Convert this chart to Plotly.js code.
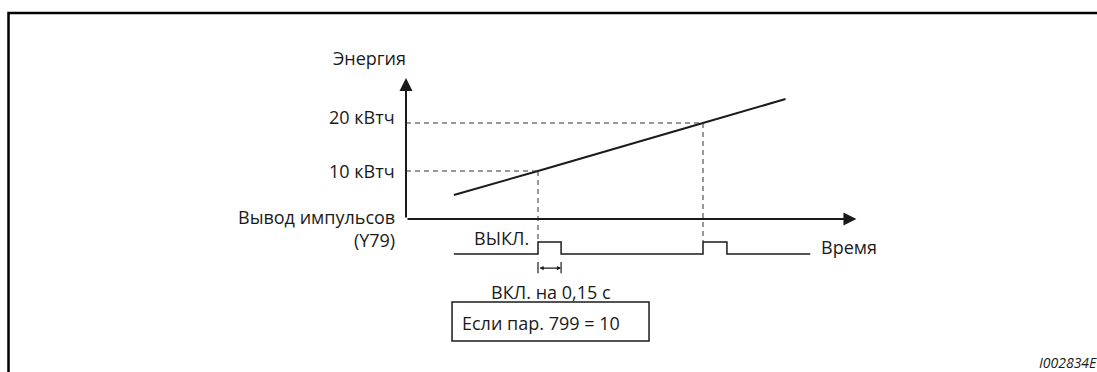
<!DOCTYPE html>
<html>
<head>
<meta charset="utf-8">
<script src="https://cdn.plot.ly/plotly-3.0.1.min.js"></script>
<style>
  html, body { margin: 0; padding: 0; background: #fff; }
  #chart { width: 1097px; height: 372px; }
</style>
</head>
<body>
<div id="chart"></div>
<script>
// energy curve (time in arbitrary units, energy in kWh)
const energyTime = [2.9, 8, 18, 23];
const energyKWh = [5, 10, 20, 25];

// pulse thresholds
const thresholdKWh = [10, 20];
const thresholdLabels = ['10 кВтч', '20 кВтч'];
const thresholdTime = [8, 18];

// pulse output Y79 (0 = ВЫКЛ., 1 = ВКЛ.)
const pulseTime = [2.9, 8, 8, 9.4, 9.4, 18, 18, 19.45, 19.45, 24.5];
const pulseLevel = [0, 0, 1, 1, 0, 0, 1, 1, 0, 0];

const axisEnd = { time: 27.3, energy: 29.4 };
const onWidth = [8, 9.4];

const xRange = [-24.606, 41.879];
const yRange = [-31.875, 45.625];
const y2Range = [-9.833, 21.167];

const ink = '#1a1a1a';
const font = { family: 'Open Sans, sans-serif', size: 18, color: ink };

// convert a pulse-axis value into the energy axis (shared vertical position)
function pulseToEnergy(v){
  const f = (v - y2Range[0]) / (y2Range[1] - y2Range[0]);
  return yRange[0] + f * (yRange[1] - yRange[0]);
}

const traces = [
  {
    type: 'scatter', mode: 'lines',
    x: energyTime, y: energyKWh,
    line: { color: ink, width: 2 },
    hoverinfo: 'skip'
  },
  {
    type: 'scatter', mode: 'lines',
    x: pulseTime, y: pulseLevel, yaxis: 'y2',
    line: { color: ink, width: 1.5 },
    hoverinfo: 'skip'
  }
];

const dash = { color: '#333', width: 1, dash: '5px,4px' };
const shapes = [];
thresholdKWh.forEach((e, i) => {
  shapes.push({ type: 'line', xref: 'x', yref: 'y', x0: 0, x1: thresholdTime[i], y0: e, y1: e, line: dash });
  shapes.push({ type: 'line', xref: 'x', yref: 'y', x0: thresholdTime[i], x1: thresholdTime[i], y0: e, y1: pulseToEnergy(1), line: dash });
});
// dimension end ticks
onWidth.forEach(t => {
  shapes.push({ type: 'line', xref: 'x', yref: 'y2', x0: t, x1: t, y0: -0.67, y1: -1.6, line: { color: ink, width: 1.2 } });
});
// "Если пар. 799 = 10" box
shapes.push({ type: 'rect', xref: 'x', yref: 'y2', x0: 2.79, x1: 14.73, y0: -7.25, y1: -4.0, line: { color: ink, width: 1.5 } });
// outer frame
shapes.push({ type: 'rect', xref: 'paper', yref: 'paper', x0: 8.5 / 1097, x1: 1.01, y0: -0.02, y1: 1 - 13 / 372, line: { color: '#000', width: 2.5 } });

const annotations = [
  // axes with arrowheads
  { x: 0, y: axisEnd.energy, ax: 0, ay: 0, xref: 'x', yref: 'y', axref: 'x', ayref: 'y', text: '', showarrow: true, arrowhead: 2, arrowsize: 1.3, arrowwidth: 2, arrowcolor: ink, standoff: 0 },
  { x: axisEnd.time, y: 0, ax: 0, ay: 0, xref: 'x', yref: 'y', axref: 'x', ayref: 'y', text: '', showarrow: true, arrowhead: 2, arrowsize: 1.3, arrowwidth: 2, arrowcolor: ink, standoff: 0 },
  // on-time dimension
  { x: onWidth[1], y: -1.17, ax: onWidth[0], ay: -1.17, xref: 'x', yref: 'y2', axref: 'x', ayref: 'y2', text: '', showarrow: true, arrowhead: 2, arrowside: 'end+start', arrowsize: 0.7, arrowwidth: 1.2, arrowcolor: ink, standoff: 0, startstandoff: 0 },

  { x: 0.15, y: 33.6, xref: 'x', yref: 'y', text: 'Энергия', showarrow: false, xanchor: 'right', yanchor: 'middle', font },
  { x: -0.55, y: thresholdKWh[1], yshift: 6, xref: 'x', yref: 'y', text: thresholdLabels[1], showarrow: false, xanchor: 'right', yanchor: 'middle', font },
  { x: -0.55, y: thresholdKWh[0], xref: 'x', yref: 'y', text: thresholdLabels[0], showarrow: false, xanchor: 'right', yanchor: 'middle', font },
  { x: -0.55, y: 2.1, xref: 'x', yref: 'y2', text: 'Вывод импульсов<br>(Y79)', align: 'right', showarrow: false, xanchor: 'right', yanchor: 'middle', font },
  { x: 7.55, y: 1.33, xref: 'x', yref: 'y2', text: 'ВЫКЛ.', showarrow: false, xanchor: 'right', yanchor: 'middle', font },
  { x: 25.05, y: 0.58, xref: 'x', yref: 'y2', text: 'Время', showarrow: false, xanchor: 'left', yanchor: 'middle', font },
  { x: 8.8, y: -3.17, xref: 'x', yref: 'y2', text: 'ВКЛ. на 0,15 с', showarrow: false, xanchor: 'center', yanchor: 'middle', font },
  { x: 3.25, y: -5.75, xref: 'x', yref: 'y2', text: 'Если пар. 799 = 10', showarrow: false, xanchor: 'left', yanchor: 'middle', font },
  { x: 1.002, y: 1 - 362 / 372, xref: 'paper', yref: 'paper', text: '<i>I002834E</i>', showarrow: false, xanchor: 'right', yanchor: 'middle', font: { family: 'Open Sans, sans-serif', size: 14, color: ink } }
];

Plotly.newPlot('chart', traces, {
  width: 1097, height: 372,
  margin: { l: 0, r: 0, t: 0, b: 0 },
  paper_bgcolor: '#fff', plot_bgcolor: '#fff',
  showlegend: false,
  xaxis: { range: xRange, visible: false, fixedrange: true },
  yaxis: { range: yRange, visible: false, fixedrange: true },
  yaxis2: { range: y2Range, visible: false, overlaying: 'y', fixedrange: true },
  shapes, annotations
}, { displayModeBar: false, staticPlot: true });
</script>
</body>
</html>
